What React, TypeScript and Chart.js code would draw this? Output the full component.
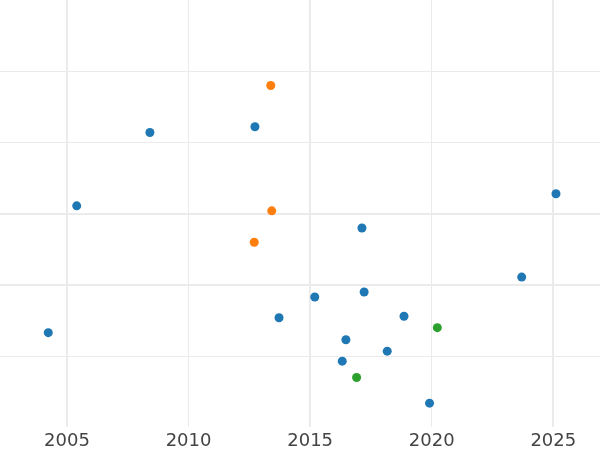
import React, { useEffect, useRef } from "react";
import { Chart, registerables } from "chart.js";

Chart.register(...registerables);

const blueX = [2008.41, 2012.73, 2005.40, 2025.11, 2017.13, 2004.23, 2013.72, 2023.70, 2015.19, 2017.22, 2018.86, 2016.47, 2018.17, 2016.32, 2019.91];
const blueY = [4.14, 4.22, 3.11, 3.28, 2.80, 1.33, 1.54, 2.11, 1.83, 1.90, 1.56, 1.23, 1.07, 0.93, 0.34];
const orangeX = [2013.38, 2013.42, 2012.70];
const orangeY = [4.80, 3.04, 2.60];
const greenX = [2020.23, 2016.91];
const greenY = [1.40, 0.70];

const xMin = 2002.245;
const xMax = 2026.92;
const yMin = 0;
const yMax = 6;
const xTickStep = 5;

const toPoints = (xs: number[], ys: number[]) => xs.map((x, i) => ({ x, y: ys[i] }));

export default function App() {
  const ref = useRef<HTMLCanvasElement | null>(null);
  useEffect(() => {
    document.body.style.margin = "0";
    const ctx = ref.current!;
    const mk = (label: string, xs: number[], ys: number[], color: string) => ({
      label,
      data: toPoints(xs, ys),
      backgroundColor: color,
      borderColor: color,
      borderWidth: 0,
      pointRadius: 4.5,
      pointHoverRadius: 4.5,
    });
    const chart = new Chart(ctx, {
      type: "scatter",
      data: {
        datasets: [
          mk("blue", blueX, blueY, "#1f77b4"),
          mk("orange", orangeX, orangeY, "#ff7f0e"),
          mk("green", greenX, greenY, "#2ca02c"),
        ],
      },
      options: {
        animation: false,
        responsive: true,
        maintainAspectRatio: false,
        layout: { padding: { left: 0, right: 0, top: 0, bottom: -5 }, autoPadding: false },
        plugins: { legend: { display: false }, tooltip: { enabled: false } },
        scales: {
          x: {
            type: "linear",
            min: xMin,
            max: xMax,
            border: { display: false },
            grid: {
              drawTicks: false,
              color: "#ebebeb",
              lineWidth: (c: any) => (c.tick && (c.tick.value - 2005) % 10 === 0 ? 2 : 1),
            },
            ticks: {
              stepSize: xTickStep,
              includeBounds: false,
              padding: 3,
              color: "#444444",
              font: { family: "DejaVu Sans", size: 18, lineHeight: 1.2 },
              callback: (v: any) => String(v),
              maxRotation: 0,
            },
          },
          y: {
            type: "linear",
            min: yMin,
            max: yMax,
            border: { display: false },
            grid: {
              drawTicks: false,
              color: (c: any) => (c.tick && (c.tick.value === yMin || c.tick.value === yMax) ? "rgba(0,0,0,0)" : "#ebebeb"),
              lineWidth: (c: any) => (c.tick && (c.tick.value === 2 || c.tick.value === 3) ? 2 : 1),
            },
            ticks: { display: false, stepSize: 1 },
          },
        },
      },
    });
    return () => chart.destroy();
  }, []);
  return (
    <div style={{ position: "fixed", left: 0, top: 0, width: 600, height: 450 }}>
      <canvas ref={ref} />
    </div>
  );
}
